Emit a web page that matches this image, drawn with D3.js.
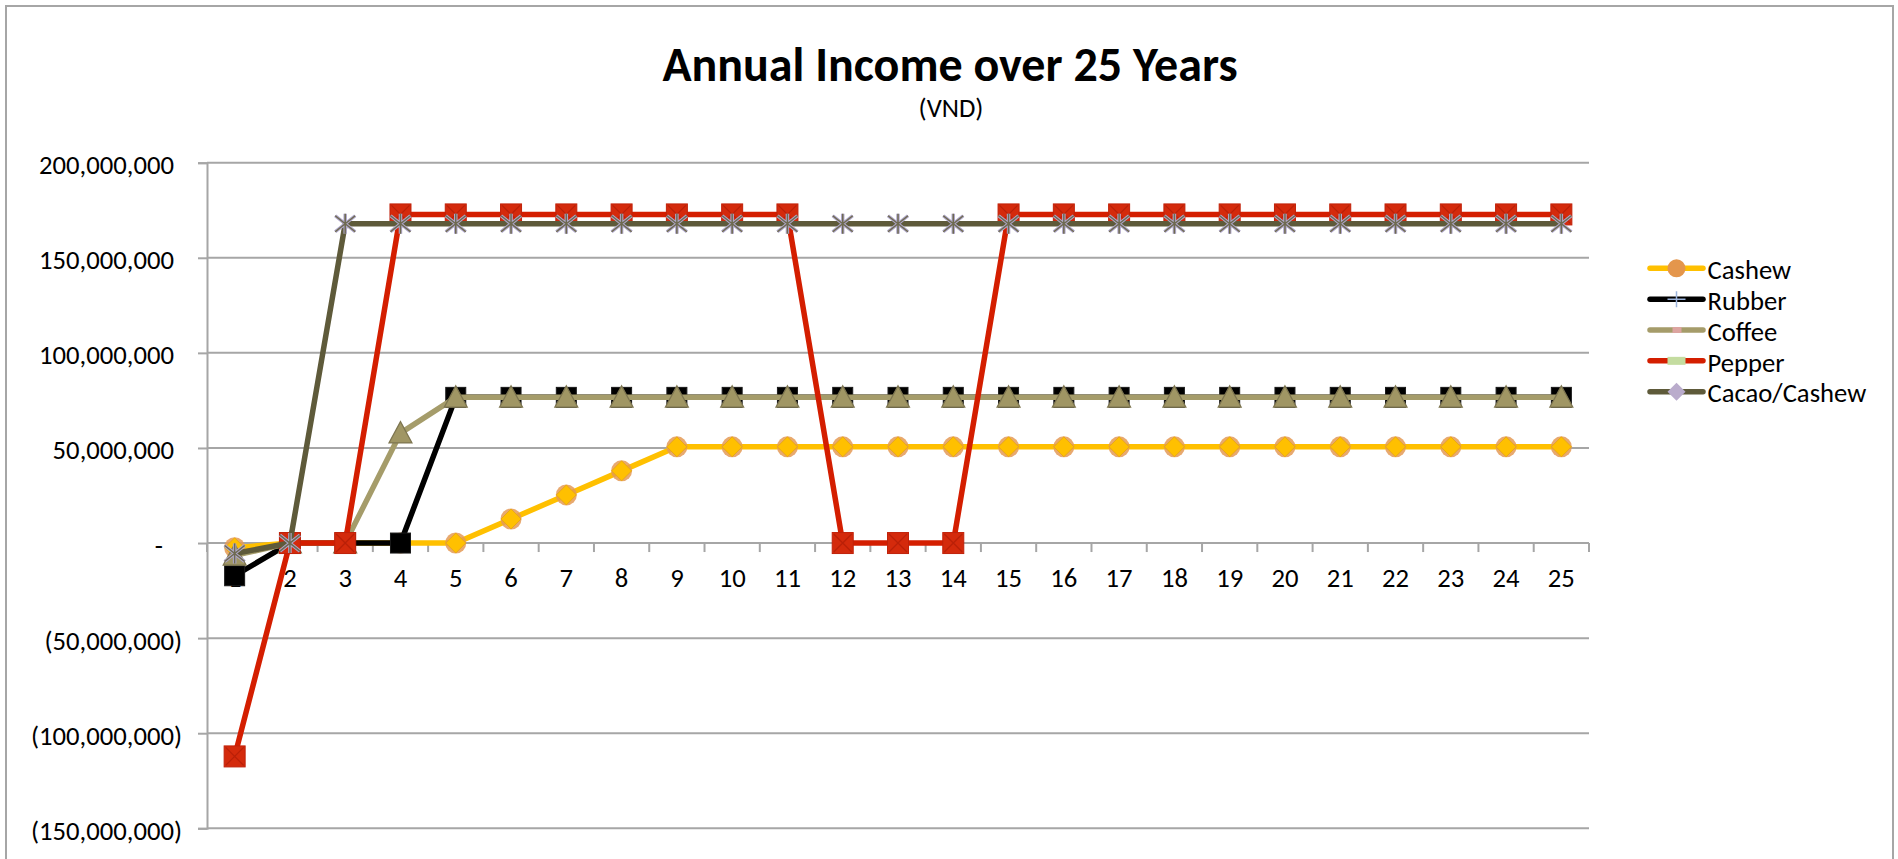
<!DOCTYPE html>
<html>
<head>
<meta charset="utf-8">
<script src="https://cdn.jsdelivr.net/npm/d3@7"></script>
<style>
  html, body { margin: 0; padding: 0; background: #ffffff; overflow: hidden; }
  svg { display: block; }
  text { font-family: Carlito, "Open Sans", sans-serif; fill: #000; }
</style>
</head>
<body>
<svg id="chart" width="1898" height="859"></svg>
<script>
// ---------------- DATA ----------------
const years = d3.range(1, 26).map(String);
const yTicks = [200000000, 150000000, 100000000, 50000000, 0, -50000000, -100000000, -150000000];
const seriesNames = ["Cashew", "Rubber", "Coffee", "Pepper", "Cacao/Cashew"];

const cashew = [-2500000, 0, 0, 0, 0, 12650000, 25300000, 37950000,
  50600000, 50600000, 50600000, 50600000, 50600000, 50600000, 50600000, 50600000,
  50600000, 50600000, 50600000, 50600000, 50600000, 50600000, 50600000, 50600000, 50600000];
const rubber = [-17200000, 0, 0, 0, 76600000, 76600000, 76600000, 76600000,
  76600000, 76600000, 76600000, 76600000, 76600000, 76600000, 76600000, 76600000,
  76600000, 76600000, 76600000, 76600000, 76600000, 76600000, 76600000, 76600000, 76600000];
const coffee = [-6500000, 0, 0, 57800000, 76600000, 76600000, 76600000, 76600000,
  76600000, 76600000, 76600000, 76600000, 76600000, 76600000, 76600000, 76600000,
  76600000, 76600000, 76600000, 76600000, 76600000, 76600000, 76600000, 76600000, 76600000];
const pepper = [-112200000, 0, 0, 172800000, 172800000, 172800000, 172800000, 172800000,
  172800000, 172800000, 172800000, 0, 0, 0, 172800000, 172800000,
  172800000, 172800000, 172800000, 172800000, 172800000, 172800000, 172800000, 172800000, 172800000];
const cacaoCashew = [-5500000, 0, 167900000, 167900000, 167900000, 167900000, 167900000, 167900000,
  167900000, 167900000, 167900000, 167900000, 167900000, 167900000, 167900000, 167900000,
  167900000, 167900000, 167900000, 167900000, 167900000, 167900000, 167900000, 167900000, 167900000];

const seriesValues = [cashew, rubber, coffee, pepper, cacaoCashew];

// ---------------- STYLE ----------------
const lineColors = ["#ffc000", "#000000", "#a59c6a", "#d41e00", "#5e5a3a"];
const markerTypes = ["diamond", "square", "triangle", "xsquare", "star"];
const legendMarkers = ["circle", "plus", "pinkrect", "greenrect", "ldiamond"];

const svg = d3.select("#chart");
const plot = { left: 207, right: 1589, top: 162.7, bottom: 828.3 };
const gridColor = "#a6a6a6";
const labelSize = "26.67px";

// outer border
svg.append("rect").attr("x", 6).attr("y", 6).attr("width", 1887).attr("height", 900)
  .attr("fill", "#fff").attr("stroke", gridColor).attr("stroke-width", 2);

const x = d3.scaleBand().domain(years).range([plot.left, plot.right]).padding(0);
const y = d3.scaleLinear().domain([-150000000, 200000000]).range([plot.bottom, plot.top]);
const cx = d => x(d) + x.bandwidth() / 2;

// title
svg.append("text").attr("x", 950).attr("y", 81).attr("text-anchor", "middle")
  .style("font-size", "48px").style("font-weight", "bold").text("Annual Income over 25 Years");
svg.append("text").attr("x", 951).attr("y", 117).attr("text-anchor", "middle")
  .style("font-size", labelSize).text("(VND)");

// gridlines
svg.append("g").selectAll("line").data(yTicks).join("line")
  .attr("x1", plot.left).attr("x2", plot.right)
  .attr("y1", d => y(d)).attr("y2", d => y(d))
  .attr("stroke", gridColor).attr("stroke-width", 2);

// y axis
const fmt = d3.format(",");
const yAxis = d3.axisLeft(y).tickValues(yTicks).tickSize(9).tickPadding(0)
  .tickFormat(d => d > 0 ? fmt(d) : d < 0 ? "(" + fmt(-d) + ")" : "-");
const gy = svg.append("g").attr("transform", `translate(${plot.left},0)`).call(yAxis);
gy.select(".domain").attr("stroke", gridColor).attr("stroke-width", 2);
gy.selectAll(".tick line").attr("stroke", gridColor).attr("stroke-width", 2);
gy.selectAll(".tick text")
  .attr("x", d => d < 0 ? -25 : d === 0 ? -44 : -33)
  .attr("dy", "11px")
  .style("font-size", labelSize).style("font-family", "Carlito, 'Open Sans', sans-serif")
  .attr("fill", "#000");

// x axis at zero
const zeroY = y(0);
const boundaries = x.domain().map(d => x(d)).concat([x.range()[1]]);
svg.append("g").selectAll("line").data(boundaries).join("line")
  .attr("x1", d => d).attr("x2", d => d)
  .attr("y1", zeroY).attr("y2", zeroY + 9)
  .attr("stroke", gridColor).attr("stroke-width", 2);
const xAxis = d3.axisBottom(x).tickSize(0).tickPadding(0);
const gx = svg.append("g").attr("transform", `translate(0,${zeroY})`).call(xAxis);
gx.select(".domain").remove();
gx.selectAll(".tick text").attr("y", 0).attr("dy", "43.5px")
  .style("font-size", labelSize).style("font-family", "Carlito, 'Open Sans', sans-serif")
  .attr("fill", "#000");

// markers
function drawMarker(g, type, px, py) {
  if (type === "diamond") {
    g.append("circle").attr("cx", px).attr("cy", py).attr("r", 10.5)
      .attr("fill", "#e49a56").attr("opacity", 0.85);
    const s = 10;
    g.append("path").attr("d", `M${px},${py - s}L${px + s},${py}L${px},${py + s}L${px - s},${py}Z`)
      .attr("fill", "#ffc000").attr("stroke", "#e8a818").attr("stroke-width", 1);
  } else if (type === "square") {
    g.append("rect").attr("x", px - 10).attr("y", py - 10).attr("width", 20).attr("height", 20)
      .attr("fill", "#000").attr("stroke", "#1a1a1a").attr("stroke-width", 1);
  } else if (type === "triangle") {
    const s = 11.5;
    g.append("path").attr("d", `M${px},${py - s}L${px + s},${py + s * 0.85}L${px - s},${py + s * 0.85}Z`)
      .attr("fill", "#a09664").attr("stroke", "#7d7550").attr("stroke-width", 1.2);
  } else if (type === "xsquare") {
    g.append("rect").attr("x", px - 10.5).attr("y", py - 10.5).attr("width", 21).attr("height", 21)
      .attr("fill", "#d42a0c").attr("stroke", "#c0220a").attr("stroke-width", 1);
    g.append("path").attr("d", `M${px - 9},${py - 9}L${px + 9},${py + 9}M${px + 9},${py - 9}L${px - 9},${py + 9}`)
      .attr("stroke", "#a81a06").attr("stroke-width", 1.2).attr("opacity", 0.6);
  } else if (type === "star") {
    const s = 10;
    g.append("path").attr("d", `M${px - s},${py - s * 0.8}L${px + s},${py + s * 0.8}M${px + s},${py - s * 0.8}L${px - s},${py + s * 0.8}M${px},${py - s}L${px},${py + s}`)
      .attr("stroke", "#b0a8cc").attr("stroke-width", 3.5).attr("fill", "none");
    g.append("path").attr("d", `M${px - s},${py - s * 0.8}L${px + s},${py + s * 0.8}M${px + s},${py - s * 0.8}L${px - s},${py + s * 0.8}M${px},${py - s}L${px},${py + s}`)
      .attr("stroke", "#6e6a50").attr("stroke-width", 1.5).attr("fill", "none");
  }
}

const line = d3.line().x((d, i) => cx(years[i])).y(d => y(d));
seriesValues.forEach((vals, si) => {
  const g = svg.append("g");
  g.append("path").datum(vals).attr("d", line)
    .attr("fill", "none").attr("stroke", lineColors[si]).attr("stroke-width", 5.5)
    .attr("stroke-linejoin", "round").attr("stroke-linecap", "round");
  vals.forEach((v, i) => drawMarker(g, markerTypes[si], cx(years[i]), y(v)));
});

// legend
const legend = svg.append("g");
seriesNames.forEach((name, i) => {
  const ly = 268.3 + i * 30.85;
  const x1 = 1650, x2 = 1703, mx = (x1 + x2) / 2;
  legend.append("line").attr("x1", x1).attr("x2", x2).attr("y1", ly).attr("y2", ly)
    .attr("stroke", lineColors[i]).attr("stroke-width", 5.5).attr("stroke-linecap", "round");
  const m = legendMarkers[i];
  if (m === "circle") {
    legend.append("circle").attr("cx", mx).attr("cy", ly).attr("r", 9).attr("fill", "#e4964c");
  } else if (m === "plus") {
    legend.append("path").attr("d", `M${mx - 9},${ly}L${mx + 9},${ly}M${mx},${ly - 8}L${mx},${ly + 8}`)
      .attr("stroke", "#9cb4dc").attr("stroke-width", 1.5);
  } else if (m === "pinkrect") {
    legend.append("rect").attr("x", mx - 4).attr("y", ly - 3).attr("width", 9).attr("height", 6)
      .attr("fill", "#dca4a0");
  } else if (m === "greenrect") {
    legend.append("rect").attr("x", mx - 9).attr("y", ly - 4).attr("width", 18).attr("height", 8)
      .attr("fill", "#c4dca0");
  } else if (m === "ldiamond") {
    const s = 9;
    legend.append("path").attr("d", `M${mx},${ly - s}L${mx + s},${ly}L${mx},${ly + s}L${mx - s},${ly}Z`)
      .attr("fill", "#baaccc");
  }
  legend.append("text").attr("x", 1707.5).attr("y", ly + 10.7)
    .style("font-size", labelSize).text(name);
});
</script>
</body>
</html>
